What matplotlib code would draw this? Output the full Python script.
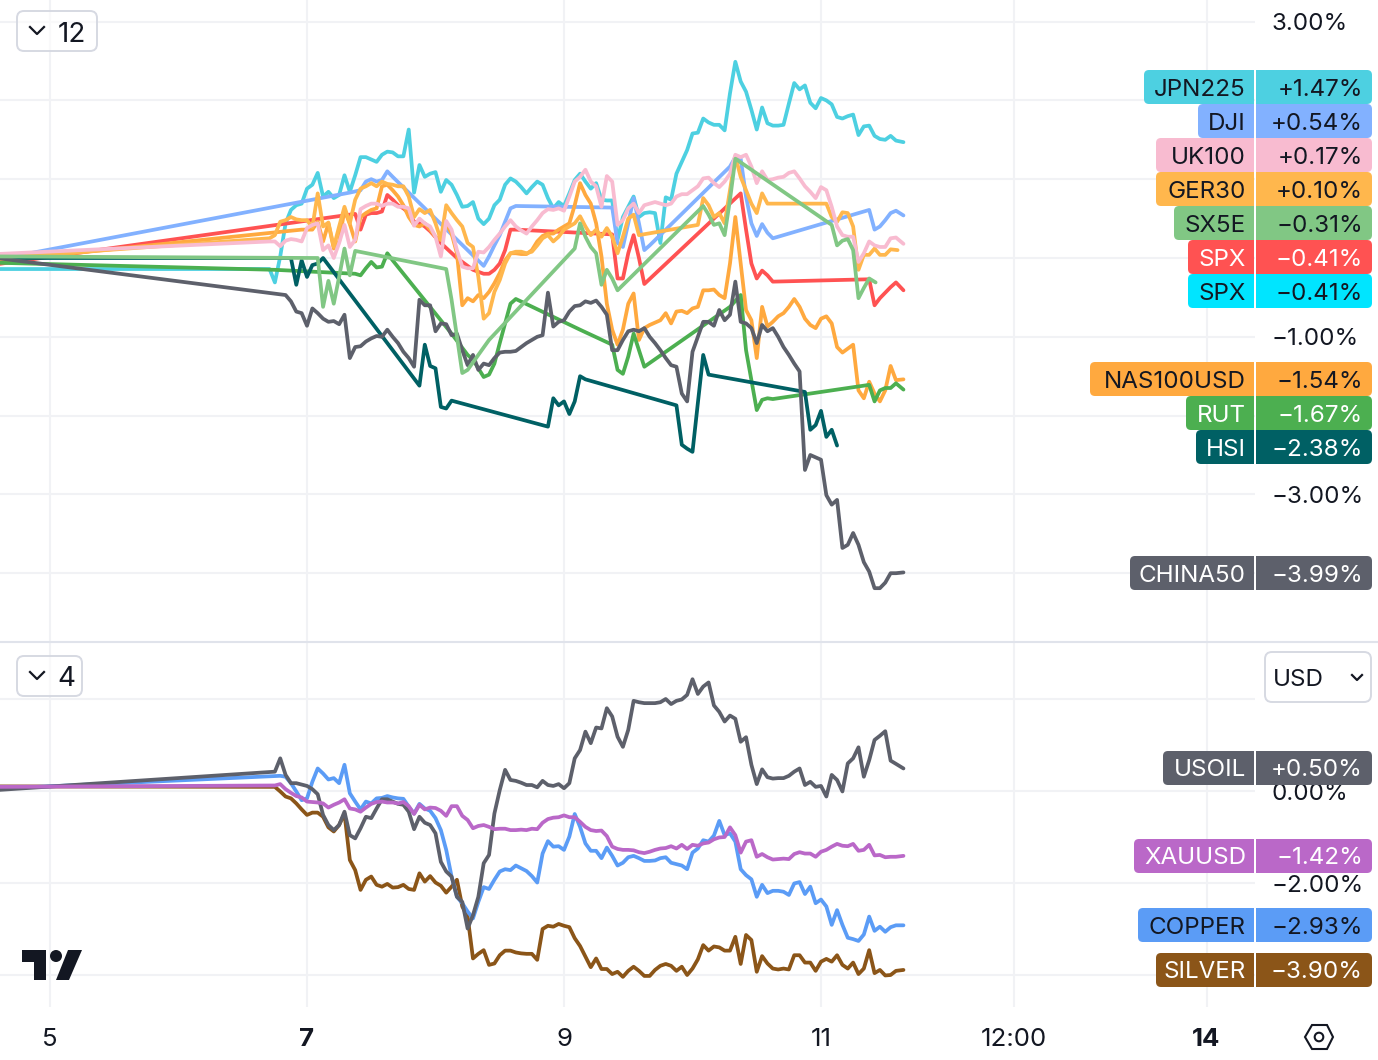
import matplotlib
matplotlib.use("Agg")
import matplotlib.pyplot as plt
from matplotlib.patches import Circle, FancyBboxPatch, Polygon, Rectangle

plt.rcParams['font.family'] = ['Inter', 'DejaVu Sans']

# x is hours since the 5th 00:00, y is percent change
jpn225 = [(-10,-.14),(41,-.14),(42,-.31),(43,.02),(44,.44),(45,.61),(46,.67),(47,.69),(48,.88),(49,.93),(50,1.08),
    (51,.78),(52,.84),(53,.76),(54,.80),(55,1.05),(56,.84),(57,1.05),(58,1.28),(59,1.28),(60,1.25),(61,1.22),(62,1.31),
    (63,1.35),(64,1.34),(65,1.29),(66,1.29),(67,1.63),(68,.83),(69,1.18),(70,1.03),(71,1.07),(72,1.09),(73,.84),(74,.99),
    (75,.93),(76,.80),(77,.65),(78,.66),(79,.71),(80,.50),(81,.43),(82,.50),(83,.67),(84,.74),(85,.93),(86,1.01),(87,.97),
    (88,.90),(89,.82),(90,.90),(91,.97),(92,.93),(93,.76),(94,.63),(95,.71),(96,.66),(97,.82),(98,.99),(99,1.07),(100,.97),
    (101,.88),(102,.95),(103,.74),(104,.73),(105,.73),(106,.23),(107,.52),(108,.65),(109,.78),(110,.52),(111,.57),(112,.58),
    (113,.57),(114,.19),(115,.77),(116,.74),(117,1.07),(118,1.22),(119,1.37),(120,1.58),(121,1.59),(122,1.77),(123,1.72),
    (124,1.69),(125,1.69),(126,1.62),(127,2.09),(128,2.49),(129,2.24),(130,2.11),(131,1.88),(132,1.63),(133,1.91),(134,1.71),
    (135,1.68),(136,1.68),(137,1.69),(138,1.96),(139,2.22),(140,2.14),(141,2.19),(142,1.97),(143,1.90),(144,2.03),(145,2.00),
    (146,1.95),(147,1.79),(148,1.77),(149,1.80),(150,1.82),(151,1.56),(152,1.67),(153,1.68),(154,1.55),(155,1.51),(156,1.50),
    (157,1.55),(158,1.49),(159.4,1.47)]

dji = [(-10,-.02),(56,.83),(58,.86),(59,.97),(60,1.0),(61,.97),(62,.99),(63,1.10),(64,1.03),(81,-.10),(82,.02),(83,.16),
    (84,.29),(85,.46),(86,.63),(87,.66),(105,.64),(106,.19),(107,.14),(108,.44),(109,.76),(110,.44),(111,.10),(112,.16),
    (127,1.16),(128,1.28),(129,1.26),(130,.78),(131,.44),(132,.28),(133,.43),(134,.32),(135,.25),(153,.61),(154,.36),
    (155,.40),(156,.48),(157,.57),(158,.60),(159.4,.54)]

uk100 = [(-10,.05),(41,.21),(42,.21),(43,.15),(44,.22),(45,.24),(46,.23),(47,.21),(48,.38),(49,.42),(50,.44),(51,.10),(52,.16),
    (53,0),(54,.19),(55,.42),(56,.14),(57,.23),(58,.62),(59,.66),(60,.69),(61,.69),(62,.66),(63,.69),(64,.69),(65,.65),(66,.65),
    (67,.63),(68,.41),(69,.50),(70,.44),(71,.40),(72,.27),(73,.02),(74,.47),(75,.36),(76,.10),(77,-.11),(78,-.13),(79,-.13),
    (80,.08),(81,.07),(82,.14),(83,.23),(84,.31),(85,.40),(86,.48),(87,.40),(88,.35),(89,.31),(90,.40),(91,.48),(92,.57),(93,.62),
    (94,.61),(95,.63),(96,.60),(97,.78),(98,.97),(99,1.03),(100,1.12),(101,.97),(102,.91),(103,.65),(104,1.04),(105,.97),(106,.42),
    (107,.48),(108,.63),(109,.69),(110,.57),(111,.67),(112,.69),(113,.71),(114,.69),(115,.67),(116,.69),(117,.78),(118,.81),
    (119,.81),(120,.86),(121,.91),(122,1.01),(123,1.02),(124,.95),(125,.90),(126,.97),(127,1.07),(128,1.31),(129,1.28),(130,1.31),
    (131,1.16),(132,.95),(133,1.10),(134,.99),(135,1.00),(136,1.02),(137,1.03),(138,1.08),(139,1.10),(140,1.01),(141,.91),(142,.84),
    (143,.76),(144,.90),(145,.86),(146,.65),(147,.40),(148,.29),(149,.27),(150,.27),(151,-.05),(152,.06),(153,.21),(154,.16),
    (155,.14),(156,.14),(157,.25),(158,.26),(159.4,.18)]

ger30 = [(-10,0),(41,.25),(42,.29),(43,.46),(44,.48),(45,.52),(46,.49),(47,.48),(48,.48),(49,.39),(50,.82),(51,.40),(52,.45),
    (53,.14),(54,.40),(55,.65),(56,.44),(57,.74),(58,.88),(59,.91),(60,.95),(61,.91),(62,.97),(63,.94),(64,.93),(65,.91),(66,.91),
    (67,.78),(68,.52),(69,.62),(70,.57),(71,.61),(72,.44),(73,.23),(74,.67),(75,.57),(76,.48),(77,.40),(78,.19),(79,.14),(80,-.24),
    (81,-.77),(82,-.70),(83,-.43),(84,-.28),(85,-.07),(86,.06),(87,.08),(88,.08),(89,.06),(90,.08),(91,.16),(92,.25),(93,.29),
    (94,.21),(95,.27),(96,.36),(97,.40),(98,.44),(99,.53),(100,.40),(101,.29),(102,.36),(103,.27),(104,.38),(105,.27),(106,.06),
    (107,.27),(108,.50),(109,.55),(110,.29),(121,.42),(122,.76),(123,.67),(124,.52),(125,.57),(126,.44),(127,.86),(128,1.29),
    (129,1.03),(130,.86),(131,.69),(132,.57),(133,.82),(134,.69),(145,.69),(146,.52),(147,.46),(148,.58),(149,.57),(150,.40),
    (151,-.15),(152,.04),(153,.04),(154,.12),(155,.04),(156,.04),(157,.11),(158.3,.10)]

sx5e = [(-10,.02),(50,0),(51,-.62),(52,-.29),(53,-.58),(54,-.24),(55,.12),(56,-.22),(57,.09),(74,-.14),(75,-.53),(77,-1.46),
    (78,-1.42),(82,-1.04),(98,.12),(99,.44),(100,.27),(101,.14),(102,.06),(103,-.34),(104,-.15),(105,-.26),(106,-.41),(122,.66),
    (123,.55),(124,.42),(125,.44),(126,.29),(127,.74),(128,1.26),(146,.42),(147,.16),(148,.22),(149,.24),(150,.10),(151,-.51),
    (152,-.38),(153,-.26),(154.2,-.31)]

spx = [(-10,-.08),(57,.56),(58,.36),(59,.55),(60,.57),(61,.57),(62,.59),(63,.80),(64,.74),(65,.67),(66,.63),(67,.57),(68,.46),
    (69,.44),(70,.40),(71,.34),(73,.19),(76,0),(79,-.15),(81,-.20),(82,-.20),(83,-.15),(84,-.07),(85,.10),(86,.36),(87,.36),
    (105,.30),(106,-.26),(107,-.26),(108,.06),(109,.29),(110,0),(111,-.33),(129,.82),(130,.36),(131,-.07),(132,-.26),(133,-.16),
    (134,-.22),(135,-.30),(153,-.27),(154,-.60),(155,-.51),(156,-.44),(157,-.37),(158,-.31),(159.4,-.41)]

nas100 = [(-10,-.04),(47,.36),(49,.36),(50,.46),(51,.21),(52,.44),(53,.12),(54,.21),(55,.61),(56,.43),(57,.21),(58,.52),(59,.57),
    (60,.61),(61,.63),(62,.91),(63,.93),(64,.86),(65,.78),(66,.67),(67,.52),(68,.42),(69,.40),(70,.44),(71,.36),(72,.27),(73,.23),
    (74,.44),(75,.31),(76,.06),(77,-.60),(78,-.51),(79,-.55),(80,-.47),(81,-.51),(82,-.43),(83,-.32),(84,-.19),(85,-.03),(86,.06),
    (87,.06),(88,.05),(89,.05),(90,.10),(91,.21),(92,.28),(93,.31),(94,.31),(95,.36),(96,.40),(97,.44),(98,.67),(99,.95),(100,.80),
    (101,.69),(102,.44),(103,.02),(104,-.58),(105,-.91),(106,-1.10),(107,-.91),(108,-.58),(109,-.45),(110,-1.04),(111,-.89),(112,-.85),
    (113,-.82),(114,-.79),(115,-.70),(116,-.83),(117,-.68),(118,-.67),(119,-.70),(120,-.64),(121,-.62),(122,-.41),(123,-.41),(124,-.40),
    (125,-.47),(126,-.51),(127,-.07),(128,.52),(129,-.07),(130,-.66),(131,-.79),(132,-1.27),(133,-.62),(134,-.87),(135,-.81),(136,-.74),
    (137,-.70),(138,-.62),(139,-.52),(140,-.62),(141,-.77),(142,-.85),(143,-.89),(144,-.77),(145,-.74),(146,-.83),(147,-1.13),(148,-1.20),
    (149,-1.15),(150,-1.10),(151,-1.68),(152,-1.78),(153,-1.57),(154,-1.72),(155,-1.82),(156,-1.68),(157,-1.37),(158,-1.55),(159.4,-1.54)]

rut = [(-10,-.06),(42,-.15),(57,-.20),(58,-.22),(59,-.13),(60,-.05),(61,-.12),(62,-.11),(63,.06),(64,-.03),(75,-.96),(78,-1.23),
    (79,-1.29),(81,-1.51),(82,-1.48),(83,-1.34),(84,-1.08),(85,-.83),(86,-.58),(87,-.52),(99,-.91),(105,-1.10),(106,-1.42),(107,-1.47),
    (108,-1.25),(109,-.96),(110,-1.17),(111,-1.38),(127,-.62),(129,-.47),(130,-1.17),(132,-1.93),(133,-1.80),(134,-1.78),(135,-1.79),
    (153,-1.61),(154,-1.82),(155,-1.68),(156,-1.65),(157,-1.65),(158,-1.59),(159.4,-1.67)]

hsi = [(-10,0),(45,0),(46,-.34),(47,-.03),(48,-.24),(49,-.09),(50,-.07),(51,0),(69,-1.62),(70,-1.10),(71,-1.37),(72,-1.40),(73,-1.89),
    (74,-1.91),(75,-1.81),(93,-2.14),(94,-1.78),(95,-1.87),(96,-1.82),(97,-1.98),(98,-1.82),(99,-1.50),(100,-1.54),(117,-1.87),(118,-2.37),
    (119,-2.42),(120,-2.46),(121,-1.84),(122,-1.23),(123,-1.48),(141,-1.70),(142,-2.18),(143,-2.12),(144,-1.94),(145,-2.27),(146,-2.18),(147,-2.38)]

china50 = [(-10,0),(44,-.47),(45,-.55),(46,-.68),(47,-.70),(48,-.86),(49,-.64),(50,-.70),(51,-.77),(52,-.81),(53,-.80),(54,-.84),(55,-.72),
    (56,-1.27),(57,-1.13),(58,-1.12),(59,-1.06),(60,-1.02),(61,-.99),(62,-1.00),(63,-.91),(64,-1.00),(65,-1.08),(66,-1.19),(67,-1.27),(68,-1.38),
    (69,-.53),(70,-.60),(71,-.60),(72,-.93),(73,-.83),(74,-.84),(75,-.98),(76,-.96),(77,-1.17),(78,-1.36),(79,-1.23),(80,-1.42),(81,-1.34),
    (82,-1.36),(83,-1.27),(84,-1.20),(85,-1.19),(86,-1.19),(87,-1.18),(88,-1.13),(89,-1.08),(90,-1.04),(91,-1.00),(92,-.98),(93,-.44),(94,-.87),
    (95,-.81),(96,-.79),(97,-.68),(98,-.61),(99,-.60),(100,-.55),(101,-.57),(102,-.54),(103,-.62),(104,-.72),(105,-1.17),(106,-1.17),(107,-1.04),
    (108,-.93),(109,-.91),(110,-.93),(111,-.89),(112,-1.00),(113,-1.08),(114,-1.17),(115,-1.27),(116,-1.36),(117,-1.38),(118,-1.72),(119,-1.82),
    (120,-1.19),(121,-1.00),(122,-.81),(123,-.81),(124,-.86),(125,-.66),(126,-.79),(127,-.72),(128,-.30),(129,-.81),(130,-.83),(131,-.89),
    (132,-1.08),(133,-.85),(134,-.93),(135,-.89),(136,-1.00),(137,-1.13),(138,-1.23),(139,-1.34),(140,-1.44),(141,-2.69),(142,-2.50),(143,-2.53),
    (144,-2.56),(145,-3.01),(146,-3.13),(147,-3.07),(148,-3.68),(149,-3.64),(150,-3.49),(151,-3.64),(152,-3.86),(153,-3.98),(154,-4.19),
    (155,-4.19),(156,-4.12),(157,-4.00),(158,-4.00),(159.4,-3.99)]

usoil = [(-10,.02),(42,.42),(43,.71),(44,.35),(45,.17),(46,.17),(47,.14),(48,.11),(49,.04),(50,-.07),(51,-.52),(52,-.74),(53,-.85),(54,-.74),
    (55,-.45),(56,-.96),(57,-1.03),(58,-.81),(59,-.56),(60,-.59),(61,-.38),(62,-.18),(63,-.18),(64,-.23),(65,-.28),(66,-.30),(67,-.45),(68,-.83),
    (69,-.56),(70,-.69),(71,-.74),(72,-.92),(73,-1.54),(74,-1.75),(75,-1.86),(76,-2.30),(77,-2.41),(78,-2.99),(79,-2.70),(80,-2.30),(81,-1.57),
    (82,-1.39),(83,-.49),(84,.02),(85,.46),(86,.24),(87,.22),(88,.18),(89,.13),(90,.13),(91,.08),(92,.22),(93,.13),(94,.11),(95,.15),(96,.06),
    (97,.17),(98,.71),(99,.89),(100,1.29),(101,1.04),(102,1.38),(103,1.36),(104,1.80),(105,1.62),(106,1.18),(107,.96),(108,1.33),(109,1.96),
    (110,1.93),(111,1.91),(112,1.91),(113,1.91),(114,1.93),(115,2.00),(116,1.89),(117,1.96),(118,1.99),(119,2.09),(120,2.43),(121,2.11),(122,2.27),
    (123,2.36),(124,1.86),(125,1.72),(126,1.51),(127,1.64),(128,1.57),(129,1.07),(130,1.17),(131,.57),(132,.15),(133,.47),(134,.30),(135,.27),
    (136,.28),(137,.28),(138,.33),(139,.42),(140,.49),(141,.13),(142,.20),(143,.09),(144,.11),(145,-.12),(146,.35),(147,.24),(148,-.01),(149,.60),
    (150,.71),(151,.95),(152,.31),(153,.67),(154,1.11),(155,1.20),(156,1.30),(157,.66),(158,.59),(159.4,.49)]

xauusd = [(-10,.09),(42,.12),(43,.15),(44,.04),(45,-.04),(46,-.11),(47,-.14),(48,-.23),(49,-.24),(50,-.25),(51,-.27),(52,-.36),(53,-.30),(54,-.25),
    (55,-.18),(56,-.38),(57,-.40),(58,-.45),(59,-.36),(60,-.28),(61,-.24),(62,-.23),(63,-.25),(64,-.25),(65,-.27),(66,-.24),(67,-.33),(68,-.50),
    (69,-.30),(70,-.40),(71,-.36),(72,-.37),(73,-.43),(74,-.54),(75,-.33),(76,-.33),(77,-.54),(78,-.63),(79,-.81),(80,-.76),(81,-.74),(82,-.78),
    (83,-.83),(84,-.82),(85,-.82),(86,-.85),(87,-.85),(88,-.84),(89,-.85),(90,-.82),(91,-.83),(92,-.69),(93,-.61),(94,-.58),(95,-.57),(96,-.53),
    (97,-.57),(98,-.57),(99,-.67),(100,-.78),(101,-.85),(102,-.87),(103,-.86),(104,-.98),(105,-1.21),(106,-1.26),(107,-1.28),(108,-1.28),(109,-1.29),
    (110,-1.33),(111,-1.35),(112,-1.32),(113,-1.28),(114,-1.25),(115,-1.24),(116,-1.20),(117,-1.25),(118,-1.17),(119,-1.26),(120,-1.17),(121,-1.19),
    (122,-1.14),(123,-1.12),(124,-1.05),(125,-1.01),(126,-1.00),(127,-.79),(128,-.96),(129,-1.34),(130,-1.10),(131,-1.07),(132,-1.43),(133,-1.37),
    (134,-1.44),(135,-1.49),(136,-1.48),(137,-1.47),(138,-1.48),(139,-1.37),(140,-1.33),(141,-1.36),(142,-1.36),(143,-1.43),(144,-1.32),(145,-1.28),
    (146,-1.21),(147,-1.15),(148,-1.19),(149,-1.20),(150,-1.15),(151,-1.30),(152,-1.28),(153,-1.17),(154,-1.40),(155,-1.39),(156,-1.44),(157,-1.43),
    (158,-1.43),(159.4,-1.41)]

copper = [(-10,.05),(43,.33),(44,.31),(45,.17),(46,-.01),(47,-.20),(48,-.16),(49,.20),(50,.49),(51,.38),(52,.25),(53,.28),(54,.17),(55,.57),(56,-.05),
    (57,-.23),(58,-.40),(59,-.23),(60,-.27),(61,-.16),(62,-.15),(63,-.11),(64,-.14),(65,-.16),(66,-.17),(67,-.34),(68,-.49),(69,-.28),(70,-.38),(71,-.43),
    (72,-.59),(73,-.85),(74,-1.28),(75,-1.86),(76,-2.30),(77,-2.44),(78,-2.62),(79,-2.77),(80,-2.41),(81,-2.09),(82,-2.13),(83,-1.93),(84,-1.75),(85,-1.70),
    (86,-1.72),(87,-1.62),(88,-1.68),(89,-1.74),(90,-1.85),(91,-1.99),(92,-1.36),(93,-1.09),(94,-1.21),(95,-1.20),(96,-1.28),(97,-.99),(98,-.50),(99,-.78),
    (100,-1.14),(101,-1.30),(102,-1.30),(103,-1.46),(104,-1.23),(105,-1.41),(106,-1.62),(107,-1.56),(108,-1.44),(109,-1.41),(110,-1.46),(111,-1.52),(112,-1.52),
    (113,-1.51),(114,-1.46),(115,-1.44),(116,-1.56),(117,-1.59),(118,-1.62),(119,-1.70),(120,-1.34),(121,-1.25),(122,-1.07),(123,-1.10),(124,-.97),(125,-.65),
    (126,-.96),(127,-.92),(128,-1.10),(129,-1.70),(130,-1.83),(131,-1.92),(132,-2.30),(133,-2.04),(134,-2.22),(135,-2.17),(136,-2.17),(137,-2.19),(138,-2.26),
    (139,-2.01),(140,-1.98),(141,-2.24),(142,-2.08),(143,-2.44),(144,-2.36),(145,-2.51),(146,-2.91),(147,-2.59),(148,-2.91),(149,-3.19),(150,-3.22),(151,-3.26),
    (152,-3.12),(153,-2.73),(154,-3.04),(155,-2.95),(156,-3.06),(157,-2.96),(158,-2.92),(159.4,-2.92)]

silver = [(-10,.10),(42,.09),(43,-.01),(44,-.12),(45,-.16),(46,-.27),(47,-.40),(48,-.52),(49,-.47),(50,-.47),(51,-.56),(52,-.79),(53,-.88),(54,-.74),(55,-.49),
    (56,-1.50),(57,-1.72),(58,-2.15),(59,-1.93),(60,-1.86),(61,-2.04),(62,-2.08),(63,-2.02),(64,-2.10),(65,-2.09),(66,-2.04),(67,-2.13),(68,-2.15),(69,-1.79),
    (70,-1.97),(71,-1.85),(72,-1.99),(73,-2.06),(74,-2.21),(75,-2.08),(76,-1.93),(77,-2.51),(78,-2.73),(79,-3.64),(80,-3.54),(81,-3.46),(82,-3.78),(83,-3.75),
    (84,-3.57),(85,-3.47),(86,-3.47),(87,-3.51),(88,-3.53),(89,-3.54),(90,-3.54),(91,-3.67),(92,-3.00),(93,-2.93),(94,-2.95),(95,-2.89),(96,-2.93),(97,-2.96),
    (98,-3.20),(99,-3.37),(100,-3.60),(101,-3.83),(102,-3.64),(103,-3.87),(104,-3.87),(105,-3.98),(106,-3.93),(107,-4.04),(108,-3.91),(109,-3.82),(110,-3.91),
    (111,-4.02),(112,-4.02),(113,-3.89),(114,-3.80),(115,-3.76),(116,-3.80),(117,-3.91),(118,-3.82),(119,-4.00),(120,-3.86),(121,-3.66),(122,-3.35),(123,-3.47),
    (124,-3.38),(125,-3.40),(126,-3.47),(127,-3.47),(128,-3.17),(129,-3.76),(130,-3.13),(131,-3.24),(132,-3.93),(133,-3.59),(134,-3.75),(135,-3.86),(136,-3.88),
    (137,-3.86),(138,-3.88),(139,-3.57),(140,-3.57),(141,-3.73),(142,-3.73),(143,-3.91),(144,-3.71),(145,-3.65),(146,-3.71),(147,-3.57),(148,-3.78),(149,-3.86),
    (150,-3.73),(151,-3.98),(152,-3.86),(153,-3.46),(154,-3.96),(155,-3.89),(156,-4.01),(157,-4.00),(158,-3.91),(159.4,-3.89)]

# tags on the price scale
top_names = ['JPN225', 'DJI', 'UK100', 'GER30', 'SX5E', 'SPX', 'SPX', 'NAS100USD', 'RUT', 'HSI', 'CHINA50']
top_changes = [1.47, 0.54, 0.17, 0.10, -0.31, -0.41, -0.41, -1.54, -1.67, -2.38, -3.99]
bottom_names = ['USOIL', 'XAUUSD', 'COPPER', 'SILVER']
bottom_changes = [0.50, -1.42, -2.93, -3.90]

day_hours = [0, 48, 96, 144, 180, 216]
day_labels = ['5', '7', '9', '11', '12:00', '14']
top_ticks = [3, 2, 1, 0, -1, -2, -3, -4]
top_tick_labels = ['3.00%', '', '', '', '\u22121.00%', '', '\u22123.00%', '']
bottom_ticks = [2, 0, -2, -4]
bottom_tick_labels = ['', '0.00%', '\u22122.00%', '']

# colours, same order as the names
top_colors = ['#4DD0E1', '#82B1FF', '#F8BBD0', '#FFB74D', '#81C784', '#FF5252', '#00E5FF', '#FFA93F', '#4CAF50', '#006064', '#5D606B']
bottom_colors = ['#5D606B', '#BA68C8', '#5B9CF6', '#8B5518']
top_text = ['#131722', '#131722', '#131722', '#131722', '#131722', 'white', '#131722', '#131722', 'white', 'white', 'white']
bottom_text = ['white', 'white', '#131722', 'white']

GRID = '#F1F2F5'
INK = '#131722'
BORDER = '#D6D9E2'
FS = 17.4
W, H = 1378, 1060
PANE_R = 1255
LW = 2.7

# tag layout in pixels
top_tag_y = [87, 121, 155, 189, 223, 257, 291, 379, 413, 447, 573]
top_tag_left = [1144, 1198, 1156, 1156, 1174, 1188, 1188, 1090, 1186, 1196, 1130]
bottom_tag_y = [768, 856, 925, 970]
bottom_tag_left = [1163, 1134, 1138, 1156]

fig = plt.figure(figsize=(W / 100, H / 100), dpi=100)


def pane(y0, y1, ylim, ticks, labels):
    ax = fig.add_axes([0, 1 - y1 / H, PANE_R / W, (y1 - y0) / H])
    ax.set_xlim(-50 / 5.3542, (PANE_R - 50) / 5.3542)
    ax.set_yticks(ticks)
    ax.set_yticklabels(labels)
    ax.set_ylim(*ylim)
    ax.yaxis.tick_right()
    ax.set_xticks(day_hours)
    ax.grid(True, color=GRID, linewidth=1.5)
    ax.set_axisbelow(True)
    ax.tick_params(axis='both', length=0, labelsize=FS, labelcolor=INK)
    ax.tick_params(axis='y', pad=12)
    for s in ax.spines.values():
        s.set_visible(False)
    return ax


def draw(ax, points, color):
    xs = [p[0] for p in points]
    ys = [p[1] for p in points]
    ax.plot(xs, ys, color=color, linewidth=LW, solid_joinstyle='round', solid_capstyle='round')


ax1 = pane(0, 642, ((258 - 642) / 78.8, 258 / 78.8), top_ticks, top_tick_labels)
ax1.set_xticklabels([])
for pts, col in [(jpn225, '#4DD0E1'), (dji, '#82B1FF'), (spx, '#FF5252'), (nas100, '#FFA93F'), (ger30, '#FFB74D'),
                 (rut, '#4CAF50'), (hsi, '#006064'), (china50, '#5D606B'), (uk100, '#F8BBD0'), (sx5e, '#81C784')]:
    draw(ax1, pts, col)

ax2 = pane(643, 1007, ((791 - 1007) / 46, (791 - 643) / 46), bottom_ticks, bottom_tick_labels)
ax2.set_xticklabels(day_labels, fontsize=18.6)
ax2.tick_params(axis='x', pad=15)
for i in (1, 5):
    ax2.get_xticklabels()[i].set_fontweight('bold')
for pts, col in [(silver, '#8B5518'), (copper, '#5B9CF6'), (usoil, '#5D606B'), (xauusd, '#BA68C8')]:
    draw(ax2, pts, col)

# overlay in pixels for the tags, buttons and logo
ui = fig.add_axes([0, 0, 1, 1], zorder=5)
ui.set_xlim(0, W)
ui.set_ylim(H, 0)
ui.axis('off')

ui.plot([0, W], [642, 642], color='#E0E3EB', linewidth=1.5)


def tag(name, change, y, left, color, text_color):
    top = y - 17
    ui.add_patch(FancyBboxPatch((left, top), 1254 - left, 34, boxstyle='round,pad=0,rounding_size=5', fc=color, ec='none'))
    ui.add_patch(Rectangle((left + 12, top), 1254 - left - 12, 34, fc=color, ec='none'))
    ui.add_patch(FancyBboxPatch((1256, top), 116, 34, boxstyle='round,pad=0,rounding_size=5', fc=color, ec='none'))
    ui.add_patch(Rectangle((1256, top), 100, 34, fc=color, ec='none'))
    ui.text(1246, y, name, ha='right', va='center_baseline', fontsize=FS, color=text_color)
    value = f'{change:+.2f}%'.replace('-', '\u2212')
    ui.text(1363, y, value, ha='right', va='center_baseline', fontsize=FS, color=text_color)


for i in range(len(top_names)):
    tag(top_names[i], top_changes[i], top_tag_y[i], top_tag_left[i], top_colors[i], top_text[i])
for i in range(len(bottom_names)):
    tag(bottom_names[i], bottom_changes[i], bottom_tag_y[i], bottom_tag_left[i], bottom_colors[i], bottom_text[i])


def button(x0, y0, x1, y1, label, text_x, chevron, size=FS):
    ui.add_patch(FancyBboxPatch((x0, y0), x1 - x0, y1 - y0, boxstyle='round,pad=0,rounding_size=7',
                                fc=(1, 1, 1, 0.6), ec=BORDER, linewidth=1.4))
    ui.text(text_x, (y0 + y1) / 2 + 0.5, label, ha='left', va='center_baseline', fontsize=size, color=INK)
    ui.plot(chevron[0], chevron[1], color=INK, linewidth=1.6)


button(17, 11, 97, 51, '12', 58, ([30, 37, 44], [27, 34, 27]), size=20)
button(17, 656, 82, 696, '4', 57, ([30, 37, 44], [672, 679, 672]), size=20)
button(1265, 652, 1371, 702, 'USD', 1273, ([1352, 1357, 1362], [675, 680, 675]))

# logo
ui.add_patch(Polygon([(22, 950), (46, 950), (46, 980), (34, 980), (34, 962), (22, 962)], fc=INK, ec='none'))
ui.add_patch(Circle((56, 956), 6, fc=INK, ec='none'))
ui.add_patch(Polygon([(68, 950), (82, 950), (69, 980), (56, 980)], fc=INK, ec='none'))

# settings icon
ui.add_patch(Polygon([(1305, 1037), (1312, 1025), (1327, 1025), (1333, 1037), (1327, 1049), (1312, 1049)],
                     fc='none', ec=INK, linewidth=1.5))
ui.add_patch(Circle((1319, 1037), 4.3, fc='none', ec=INK, linewidth=1.5))

fig.savefig('out.png', dpi=100)
